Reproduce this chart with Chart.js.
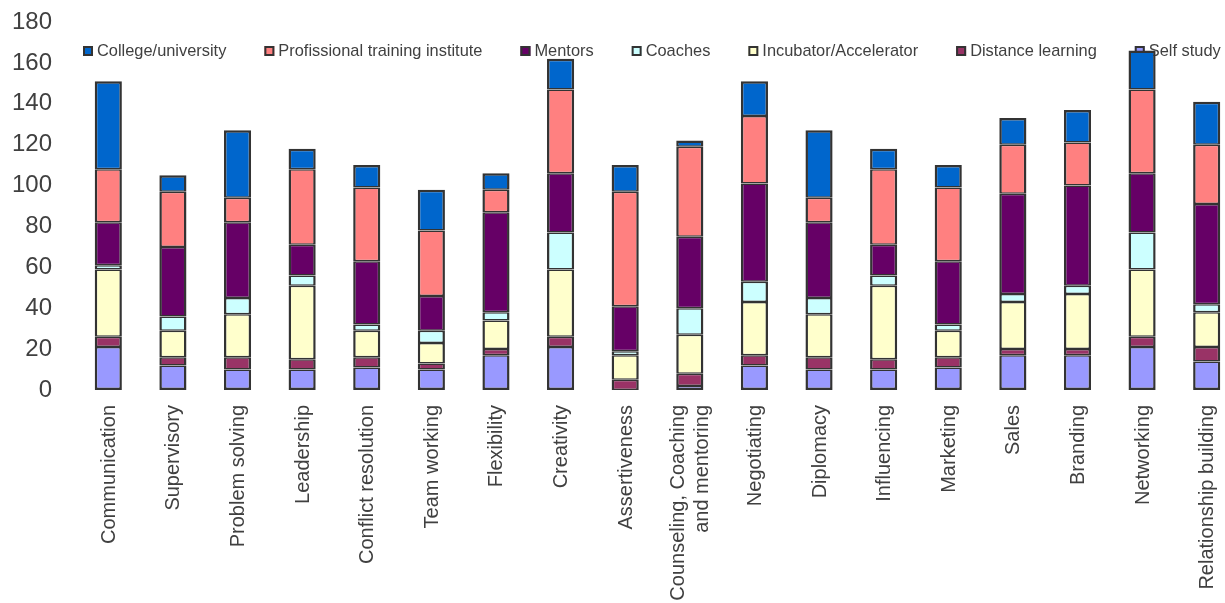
<!DOCTYPE html>
<html><head><meta charset="utf-8">
<script src="https://cdn.jsdelivr.net/npm/chart.js@4.4.1/dist/chart.umd.min.js"></script>
<style>
html,body{margin:0;padding:0;background:#fff;overflow:hidden;width:1225px;height:603px}
#wrap{position:absolute;left:0;top:0;width:1250px;height:603px}
</style>
</head><body><div id="wrap"><canvas id="c" width="1250" height="603"></canvas></div>
<script>
const categories = ['Communication','Supervisory','Problem solving','Leadership','Conflict resolution','Team working','Flexibility','Creativity','Assertiveness',['Counseling, Coaching','and mentoring'],'Negotiating','Diplomacy','Influencing','Marketing','Sales','Branding','Networking','Relationship building'];

const selfStudy        = [21,12,10,10,11,10,17,21, 0, 2,12,10,10,11,17,17,21,14];
const distanceLearning = [ 5, 4, 6, 5, 5, 3, 3, 5, 5, 6, 5, 6, 5, 5, 3, 3, 5, 7];
const incubator        = [33,13,21,36,13,10,14,33,12,19,26,21,36,13,23,27,33,17];
const coaches          = [ 2, 7, 8, 5, 3, 6, 4,18, 2,13,10, 8, 5, 3, 4, 4,18, 4];
const mentors          = [21,34,37,15,31,17,49,29,22,35,48,37,15,31,49,49,29,49];
const professional     = [26,27,12,37,36,32,11,41,56,44,33,12,37,36,24,21,41,29];
const college          = [43, 8,33,10,11,20, 8,15,13, 3,17,33,10,11,13,16,19,21];

const seriesNames  = ['Self study','Distance learning','Incubator/Accelerator','Coaches','Mentors','Profissional training institute','College/university'];
const seriesValues = [selfStudy, distanceLearning, incubator, coaches, mentors, professional, college];
const seriesColors = ['#9999FF','#993366','#FFFFCC','#CCFFFF','#660066','#FF8080','#0066CC'];
const yTickValues  = [0,20,40,60,80,100,120,140,160,180];

const FONT = '"Liberation Sans", Arial, sans-serif';
const TEXT = '#404040';
const EDGE = '#333333';
const last = seriesNames.length - 1;

const datasets = seriesNames.map((name, i) => ({
  label: name,
  data: seriesValues[i],
  backgroundColor: seriesColors[i],
  borderColor: EDGE,
  borderWidth: {left: 2.5, right: 2.5, top: i === last ? 2.5 : 1.5, bottom: i === 0 ? 2.5 : 1.5},
  borderSkipped: false,
  categoryPercentage: 1,
  barPercentage: 0.42
}));

const legendPlugin = {
  id: 'topLegend',
  beforeDatasetsDraw(chart) {
    const ctx = chart.ctx;
    ctx.save();
    ctx.font = '16.4px ' + FONT;
    ctx.textBaseline = 'middle';
    let x = 83;
    const y = 51;
    chart.data.datasets.slice().reverse().forEach(ds => {
      ctx.fillStyle = ds.backgroundColor;
      ctx.fillRect(x, y - 5, 10, 10);
      ctx.strokeStyle = EDGE;
      ctx.lineWidth = 2;
      ctx.strokeRect(x + 1, y - 4, 8, 8);
      ctx.fillStyle = TEXT;
      ctx.fillText(ds.label, x + 14, y);
      x += 14 + ctx.measureText(ds.label).width + 38;
    });
    ctx.restore();
  }
};

// x category labels drawn at the library's tick pixels, multi-line labels centred on the tick
const xLabelPlugin = {
  id: 'xLabels',
  afterDraw(chart) {
    const s = chart.scales.x;
    const ctx = chart.ctx;
    ctx.save();
    ctx.font = '20px ' + FONT;
    ctx.fillStyle = TEXT;
    ctx.textAlign = 'right';
    ctx.textBaseline = 'middle';
    const lh = 24;
    chart.data.labels.forEach((lab, i) => {
      const lines = Array.isArray(lab) ? lab : [lab];
      const px = s.getPixelForTick(i);
      lines.forEach((ln, j) => {
        const off = (j - (lines.length - 1) / 2) * lh;
        ctx.save();
        ctx.translate(px + off + 1, s.top + 15);
        ctx.rotate(-Math.PI / 2);
        ctx.fillText(ln, 0, 0);
        ctx.restore();
      });
    });
    ctx.restore();
  }
};

new Chart(document.getElementById('c'), {
  type: 'bar',
  data: { labels: categories, datasets },
  plugins: [legendPlugin, xLabelPlugin],
  options: {
    responsive: false,
    animation: false,
    layout: { padding: { top: 22, right: 11, left: 0, bottom: 0 } },
    plugins: { legend: { display: false }, tooltip: { enabled: false } },
    scales: {
      x: {
        stacked: true,
        grid: { display: false, drawTicks: false },
        border: { display: false },
        ticks: { display: false, autoSkip: false, padding: 0 },
        afterFit(s) { s.height = 213; }
      },
      y: {
        stacked: true,
        min: 0, max: 180,
        grid: { display: false, drawTicks: true, tickLength: 24 },
        border: { display: false },
        afterBuildTicks(s) { s.ticks = yTickValues.map(v => ({ value: v })); },
        ticks: { padding: 0, color: TEXT, font: { size: 24, family: FONT } },
        afterFit(s) { s.width = 76; }
      }
    }
  }
});
</script>
</body></html>
